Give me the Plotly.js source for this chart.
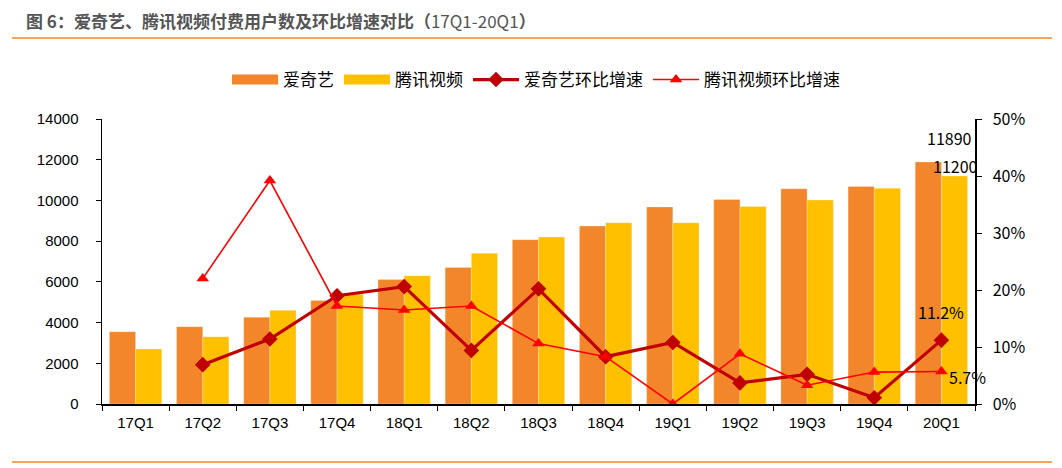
<!DOCTYPE html>
<html>
<head>
<meta charset="utf-8">
<script src="https://cdn.plot.ly/plotly-3.0.1.min.js"></script>
<style>
html,body{margin:0;padding:0;background:#fff;}
#chart{width:1062px;height:468px;}
</style>
</head>
<body>
<div id="chart"></div>
<script>
const categories = ['17Q1','17Q2','17Q3','17Q4','18Q1','18Q2','18Q3','18Q4','19Q1','19Q2','19Q3','19Q4','20Q1'];
const iqiyiUsers = [3550, 3800, 4260, 5080, 6110, 6710, 8070, 8740, 9680, 10050, 10570, 10690, 11890];
const tencentUsers = [2700, 3300, 4600, 5390, 6300, 7400, 8200, 8900, 8900, 9700, 10020, 10600, 11200];
const iqiyiGrowth = [null, 6.9, 11.4, 19.0, 20.6, 9.4, 20.2, 8.3, 10.8, 3.7, 5.2, 1.1, 11.2];
const tencentGrowth = [null, 22.0, 39.2, 17.2, 16.5, 17.2, 10.6, 8.3, 0.0, 8.8, 3.3, 5.6, 5.7];
const leftTicks = [0, 2000, 4000, 6000, 8000, 10000, 12000, 14000];
const rightTicks = [0, 10, 20, 30, 40, 50];
const seriesNames = ['爱奇艺', '腾讯视频', '爱奇艺环比增速', '腾讯视频环比增速'];
const titleMain = '图 6：爱奇艺、腾讯视频付费用户数及环比增速对比（';
const titleRange = '17Q1-20Q1';

const last = categories.length - 1;
const cjk = '"Noto Sans CJK SC", "Microsoft YaHei", sans-serif';
const arial = '"Liberation Sans", Arial, sans-serif';
const orange = '#F3852A', yellow = '#FFC000';

const traces = [
  {type:'bar', name:seriesNames[0], x:categories, y:iqiyiUsers, showlegend:false,
   marker:{color:orange, line:{color:'rgba(255,255,255,0.5)', width:0.5}}},
  {type:'bar', name:seriesNames[1], x:categories, y:tencentUsers, showlegend:false,
   marker:{color:yellow, line:{color:'rgba(255,255,255,0.5)', width:0.5}}},
  {type:'scatter', mode:'lines+markers', name:seriesNames[2], x:categories, y:iqiyiGrowth, yaxis:'y2',
   legendrank:3,
   line:{color:'#C00000', width:3.2}, marker:{symbol:'diamond', size:12, color:'#C00000'}},
  {type:'scatter', mode:'lines+markers', name:seriesNames[3], x:categories, y:tencentGrowth, yaxis:'y2',
   legendrank:4,
   line:{color:'#FF0000', width:1.6}, marker:{symbol:'triangle-up', size:11, color:'#FF0000'}},
  // legend swatches for the bar series (wide rectangles as in the original)
  {type:'scatter', mode:'lines', name:seriesNames[0], x:[null], y:[null], legendrank:1,
   line:{color:orange, width:10}, hoverinfo:'skip'},
  {type:'scatter', mode:'lines', name:seriesNames[1], x:[null], y:[null], legendrank:2,
   line:{color:yellow, width:10}, hoverinfo:'skip'}
];

const pxX = (px) => (px - 102) / 873;
const pxY = (py) => (404 - py) / 285;

const layout = {
  width:1062, height:468,
  margin:{l:102, r:87, t:119, b:64},
  paper_bgcolor:'#fff', plot_bgcolor:'#fff',
  barmode:'group', bargap:0.22, bargroupgap:0,
  showlegend:true,
  legend:{orientation:'h', x:pxX(536), xanchor:'center', y:pxY(80), yanchor:'middle',
          font:{family:cjk, size:17, color:'#000'}, itemwidth:46, tracegroupgap:0,
          entrywidth:0, bgcolor:'rgba(0,0,0,0)'},
  xaxis:{type:'category', showline:true, linecolor:'#000', linewidth:1.5,
         ticks:'outside', tickson:'boundaries', ticklen:5, tickcolor:'#000',
         tickfont:{family:arial, size:15, color:'#000'}, showgrid:false, zeroline:false,
         ticklabelstandoff:4,
         range:[-0.5, last + 0.5]},
  yaxis:{range:[0, 14000], tickvals:leftTicks, ticktext:leftTicks.map(String),
         showline:true, linecolor:'#000', linewidth:1.5,
         ticks:'outside', ticklen:5, tickcolor:'#000', showgrid:false, zeroline:false,
         ticklabelstandoff:14,
         tickfont:{family:arial, size:15, color:'#000'}},
  yaxis2:{range:[0, 50], tickvals:rightTicks, ticktext:rightTicks.map(v => v + '%'),
          overlaying:'y', side:'right',
          showline:true, linecolor:'#000', linewidth:1.5, ticks:'outside', ticklen:5, tickcolor:'#000',
          showgrid:false, zeroline:false, ticklabelstandoff:8,
          tickfont:{family:cjk, size:16, color:'#000'}},
  annotations:[
    {xref:'paper', yref:'paper', x:pxX(24), y:pxY(20), xanchor:'left', yanchor:'middle', showarrow:false,
     text:'<b>' + titleMain + '</b>' + titleRange + '<b>）</b>',
     font:{family:cjk, size:17, color:'#555555'}},
    {xref:'x', yref:'y', x:categories[last], y:iqiyiUsers[last], text:String(iqiyiUsers[last]),
     showarrow:false, xshift:8, yshift:24, font:{family:cjk, size:16, color:'#000'}},
    {xref:'x', yref:'y', x:categories[last], y:tencentUsers[last], text:String(tencentUsers[last]),
     showarrow:false, xshift:14, yshift:10, font:{family:cjk, size:16, color:'#000'}},
    {xref:'x', yref:'y2', x:categories[last], y:iqiyiGrowth[last], text:iqiyiGrowth[last].toFixed(1) + '%',
     showarrow:false, xshift:0, yshift:28, font:{family:cjk, size:16, color:'#000'}},
    {xref:'x', yref:'y2', x:categories[last], y:tencentGrowth[last], text:tencentGrowth[last].toFixed(1) + '%',
     showarrow:false, xshift:26, yshift:-5, font:{family:cjk, size:16, color:'#000'}}
  ],
  shapes:[
    {type:'line', xref:'paper', yref:'paper', x0:pxX(12), x1:pxX(1052), y0:pxY(38), y1:pxY(38),
     line:{color:'#F4862A', width:1.3}},
    {type:'line', xref:'paper', yref:'paper', x0:pxX(12), x1:pxX(1052), y0:pxY(462), y1:pxY(462),
     line:{color:'#F4862A', width:1.3}}
  ]
};

Plotly.newPlot('chart', traces, layout, {displayModeBar:false, staticPlot:true});
</script>
</body>
</html>
